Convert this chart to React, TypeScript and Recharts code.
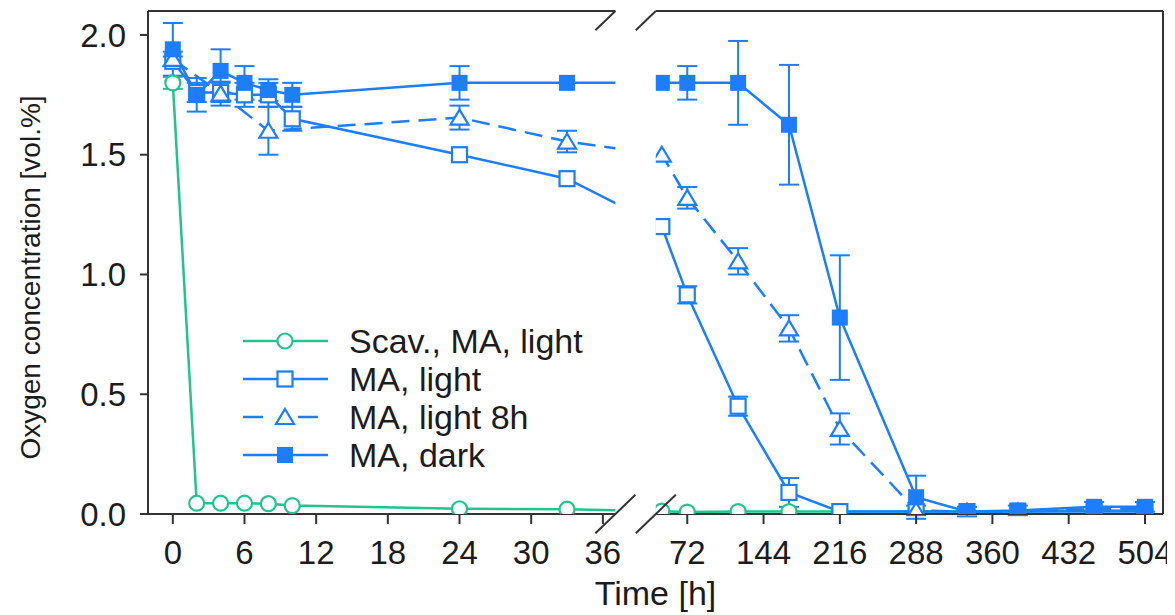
import {
  ErrorBar,
  Label,
  Legend,
  Line,
  LineChart,
  ReferenceArea,
  ReferenceLine,
  XAxis,
  YAxis,
} from 'recharts';

// sampling times [h]
const HOURS = [0, 2, 4, 6, 8, 10, 24, 33, 48, 72, 120, 168, 216, 288, 336, 384, 456, 504];

// oxygen [vol.%] and standard deviations per series
const SCAV_LIGHT = [1.8, 0.045, 0.045, 0.045, 0.043, 0.035, 0.022, 0.02, 0.012, 0.008, 0.01, 0.01, 0.01, 0.01, 0.01, 0.01, 0.015, 0.015];
const SCAV_LIGHT_SD = [0.025, 0, 0, 0, 0, 0, 0, 0, 0, 0, 0, 0, 0, 0, 0, 0, 0, 0];
const MA_LIGHT = [1.89, 1.76, 1.76, 1.75, 1.75, 1.65, 1.5, 1.4, 1.2, 0.915, 0.45, 0.09, 0.01, 0.01, 0.01, 0.01, 0.01, 0.01];
const MA_LIGHT_SD = [0.02, 0.04, 0.04, 0.05, 0.05, 0.05, 0, 0, 0, 0.036, 0.04, 0.06, 0, 0, 0, 0, 0, 0];
const MA_LIGHT_8H = [1.9, null, 1.755, null, 1.6, null, 1.655, 1.555, 1.5, 1.32, 1.055, 0.775, 0.355, 0.015, 0.01, 0.01, 0.02, 0.02];
const MA_LIGHT_8H_SD = [0.03, null, 0.05, null, 0.1, null, 0.05, 0.045, 0, 0.045, 0.055, 0.055, 0.065, 0.02, 0, 0, 0, 0];
const MA_DARK = [1.94, 1.75, 1.85, 1.8, 1.77, 1.75, 1.8, 1.8, 1.8, 1.8, 1.8, 1.625, 0.82, 0.07, 0.01, 0.015, 0.03, 0.03];
const MA_DARK_SD = [0.11, 0.07, 0.09, 0.07, 0.045, 0.05, 0.07, 0, 0, 0.07, 0.175, 0.25, 0.26, 0.09, 0.02, 0.02, 0.02, 0.02];

const TICK_HOURS = [0, 6, 12, 18, 24, 30, 36, 72, 144, 216, 288, 360, 432, 504];
const Y_TICKS = [0, 0.5, 1, 1.5, 2];

const GREEN = '#22c38d';
const BLUE = '#1c7dff';
const INK = '#1c1c1c';
const AXIS = '#333';

// broken time axis: first 36 h stretched, the rest compressed
const LEFT_SCALE = 11.94;
const RIGHT_SCALE = 1.059;
const RIGHT_AT_72 = 514.2;
function axisPos(h: number) {
  return h <= 40 ? h * LEFT_SCALE : RIGHT_AT_72 + (h - 72) * RIGHT_SCALE;
}
const X_MIN = -24.8;
const X_MAX = 989.7;
const Y_MAX = 2.1;
const BREAK_FROM = axisPos(37.05);
const BREAK_TO = axisPos(42.3);
const SLASH_DX = 20;
const SLASH_DY = 0.08;

const X_TICKS = TICK_HOURS.map(axisPos);

const rows = HOURS.map((t, i) => ({
  t,
  pos: axisPos(t),
  scav: SCAV_LIGHT[i],
  scavSd: SCAV_LIGHT_SD[i],
  light: MA_LIGHT[i],
  lightSd: MA_LIGHT_SD[i],
  light8: MA_LIGHT_8H[i],
  light8Sd: MA_LIGHT_8H_SD[i],
  dark: MA_DARK[i],
  darkSd: MA_DARK_SD[i],
}));

type Kind = 'circle' | 'square' | 'triangle' | 'filled';

function Marker({ kind, cx, cy, color }: { kind: Kind; cx?: number; cy?: number; color: string }) {
  if (cx == null || cy == null || Number.isNaN(cy)) return <g />;
  if (kind === 'circle')
    return <circle cx={cx} cy={cy} r={7.5} fill="#fff" stroke={color} strokeWidth={2.2} />;
  if (kind === 'square')
    return <rect x={cx - 7.5} y={cy - 7.5} width={15} height={15} fill="#fff" stroke={color} strokeWidth={2.2} />;
  if (kind === 'triangle')
    return (
      <polygon
        points={`${cx},${cy - 8} ${cx + 9},${cy + 7} ${cx - 9},${cy + 7}`}
        fill="#fff"
        stroke={color}
        strokeWidth={2.2}
      />
    );
  return <rect x={cx - 8} y={cy - 8} width={16} height={16} fill={color} />;
}

const dotOf = (kind: Kind, color: string) => (p: any) => (
  <Marker key={`${kind}-${p.index}`} kind={kind} cx={p.cx} cy={p.cy} color={color} />
);

const LEGEND_ROWS: { name: string; kind: Kind; color: string; dashed?: boolean }[] = [
  { name: 'Scav., MA, light', kind: 'circle', color: GREEN },
  { name: 'MA, light', kind: 'square', color: BLUE },
  { name: 'MA, light 8h', kind: 'triangle', color: BLUE, dashed: true },
  { name: 'MA, dark', kind: 'filled', color: BLUE },
];

function LegendBox() {
  return (
    <div style={{ fontSize: 34, color: INK }}>
      {LEGEND_ROWS.map(r => (
        <div key={r.name} style={{ display: 'flex', alignItems: 'center', height: 38 }}>
          <svg width={86} height={24} style={{ flex: 'none' }}>
            {r.dashed ? (
              <>
                <line x1={0} y1={12} x2={20} y2={12} stroke={r.color} strokeWidth={2.5} />
                <line x1={55} y1={12} x2={75} y2={12} stroke={r.color} strokeWidth={2.5} />
              </>
            ) : (
              <line x1={0} y1={12} x2={85} y2={12} stroke={r.color} strokeWidth={2.5} />
            )}
            <Marker kind={r.kind} cx={42} cy={12} color={r.color} />
          </svg>
          <span style={{ marginLeft: 20, lineHeight: '38px', whiteSpace: 'nowrap' }}>{r.name}</span>
        </div>
      ))}
    </div>
  );
}

// rotated y title, a little below the plot's middle
function YTitle({ viewBox }: any) {
  const x = (viewBox?.x ?? 0) + 22;
  const y = (viewBox?.y ?? 0) + (viewBox?.height ?? 0) / 2 + 15;
  return (
    <text
      x={x}
      y={y}
      transform={`rotate(-90 ${x} ${y})`}
      textAnchor="middle"
      dominantBaseline="central"
      fontSize={28}
      fill={INK}
    >
      Oxygen concentration [vol.%]
    </text>
  );
}

function tickHour(v: number) {
  const i = X_TICKS.findIndex(p => Math.abs(p - v) < 1e-6);
  return i >= 0 ? String(TICK_HOURS[i]) : '';
}

export default function App() {
  return (
    <div style={{ fontFamily: 'Arial, "Liberation Sans", sans-serif' }}>
      <LineChart
        width={1167}
        height={607}
        data={rows}
        margin={{ top: 3, right: 12, bottom: 6, left: 0 }}
      >
        <XAxis
          type="number"
          dataKey="pos"
          domain={[X_MIN, X_MAX]}
          allowDataOverflow
          ticks={X_TICKS}
          interval={0}
          tickFormatter={tickHour}
          tickSize={10}
          tickMargin={17}
          tick={{ fontSize: 33, fill: INK }}
          axisLine={{ stroke: AXIS, strokeWidth: 2 }}
          tickLine={{ stroke: AXIS, strokeWidth: 2 }}
          height={95}
        >
          <Label value="Time [h]" position="insideBottom" offset={4} fontSize={34} fill={INK} />
        </XAxis>
        <YAxis
          type="number"
          domain={[0, Y_MAX]}
          allowDataOverflow
          ticks={Y_TICKS}
          interval={0}
          tickFormatter={(v: number) => v.toFixed(1)}
          width={140}
          tickSize={8}
          tickMargin={14}
          tick={{ fontSize: 33, fill: INK }}
          axisLine={{ stroke: AXIS, strokeWidth: 2 }}
          tickLine={{ stroke: AXIS, strokeWidth: 2 }}
        >
          <Label position="insideLeft" content={YTitle} />
        </YAxis>

        <Line
          dataKey="scav"
          stroke={GREEN}
          strokeWidth={2.5}
          dot={dotOf('circle', GREEN)}
          activeDot={false}
          isAnimationActive={false}
        >
          <ErrorBar dataKey="scavSd" direction="y" width={10} stroke={GREEN} strokeWidth={2} />
        </Line>
        <Line
          dataKey="light"
          stroke={BLUE}
          strokeWidth={2.5}
          dot={dotOf('square', BLUE)}
          activeDot={false}
          isAnimationActive={false}
        >
          <ErrorBar dataKey="lightSd" direction="y" width={10} stroke={BLUE} strokeWidth={2} />
        </Line>
        <Line
          dataKey="light8"
          stroke={BLUE}
          strokeWidth={2.5}
          strokeDasharray="18 9"
          connectNulls
          dot={dotOf('triangle', BLUE)}
          activeDot={false}
          isAnimationActive={false}
        >
          <ErrorBar dataKey="light8Sd" direction="y" width={10} stroke={BLUE} strokeWidth={2} />
        </Line>
        <Line
          dataKey="dark"
          stroke={BLUE}
          strokeWidth={2.5}
          dot={dotOf('filled', BLUE)}
          activeDot={false}
          isAnimationActive={false}
        >
          <ErrorBar dataKey="darkSd" direction="y" width={10} stroke={BLUE} strokeWidth={2} />
        </Line>

        {/* frame: top and right sides */}
        <ReferenceLine y={Y_MAX} stroke={AXIS} strokeWidth={2} ifOverflow="visible" zIndex={1400} />
        <ReferenceLine x={X_MAX} stroke={AXIS} strokeWidth={2} ifOverflow="visible" zIndex={1400} />

        {/* axis break: blank band and slashes */}
        <ReferenceArea
          x1={BREAK_FROM}
          x2={BREAK_TO}
          y1={-0.02}
          y2={Y_MAX + 0.02}
          fill="#fff"
          fillOpacity={1}
          stroke="none"
          ifOverflow="visible"
          zIndex={1500}
        />
        {[BREAK_FROM, BREAK_TO].map(x => (
          <ReferenceLine
            key={`b${x}`}
            segment={[
              { x: x - SLASH_DX, y: -SLASH_DY },
              { x: x + SLASH_DX, y: SLASH_DY },
            ]}
            stroke={AXIS}
            strokeWidth={2}
            ifOverflow="visible"
            zIndex={1600}
          />
        ))}
        {[BREAK_FROM, BREAK_TO].map(x => (
          <ReferenceLine
            key={`t${x}`}
            segment={[
              { x: x - SLASH_DX, y: Y_MAX - SLASH_DY },
              { x, y: Y_MAX },
            ]}
            stroke={AXIS}
            strokeWidth={2}
            ifOverflow="visible"
            zIndex={1600}
          />
        ))}

        <Legend
          layout="vertical"
          align="center"
          verticalAlign="middle"
          wrapperStyle={{ left: 235, top: 314, width: 'auto' }}
          content={() => <LegendBox />}
        />
      </LineChart>
    </div>
  );
}
